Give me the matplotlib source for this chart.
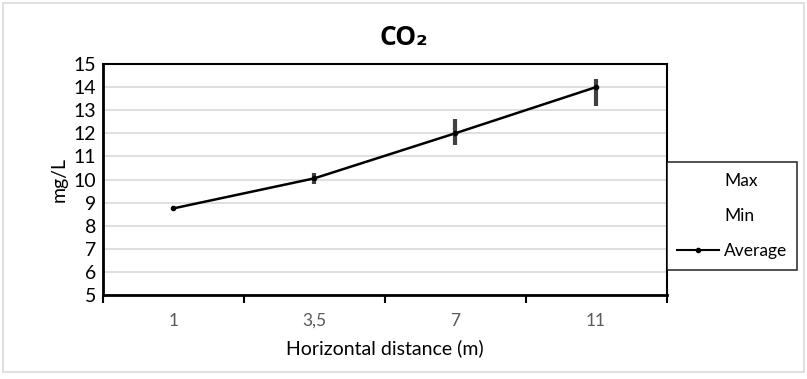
import matplotlib.pyplot as plt
import numpy as np
from matplotlib.lines import Line2D
from matplotlib.patches import Rectangle

plt.rcParams['font.family'] = ['Lato', 'DejaVu Sans']

distances = ["1", "3,5", "7", "11"]
average = [8.75, 10.05, 12.0, 14.0]
max_vals = [8.75, 10.3, 12.6, 14.35]
min_vals = [8.75, 9.8, 11.5, 13.2]

fig = plt.figure(figsize=(8.07, 3.79), dpi=100)
ax = fig.add_axes([0.1276, 0.2216, 0.6983, 0.6095])

x = np.arange(len(distances))

# max/min as vertical bars, like the Excel high-low lines
ax.vlines(x, min_vals, max_vals, color="#404040", linewidth=3, zorder=3)
ax.plot(x, average, color="black", linewidth=1.8, marker="o", markersize=3, zorder=4)

ax.set_xlim(-0.5, len(distances) - 0.5)
ax.set_ylim(5, 15)
ax.set_yticks(range(5, 16))
ax.grid(axis="y", color="#d9d9d9", linewidth=1.2)
ax.set_axisbelow(True)

ax.set_xticks(x)
ax.set_xticklabels(distances, color="#595959", fontsize=12.5)
ax.set_xticks(np.arange(-0.5, len(distances)), minor=True)
ax.tick_params(axis="x", which="major", length=0, pad=13)
ax.tick_params(axis="x", which="minor", length=6, width=1.5, direction="out")
ax.tick_params(axis="y", length=0, labelsize=14, pad=5)

for side in ["left", "bottom"]:
    ax.spines[side].set_linewidth(2)
for side in ["top", "right"]:
    ax.spines[side].set_linewidth(1.5)

ax.set_xlabel("Horizontal distance (m)", fontsize=14, labelpad=7)
ax.set_ylabel("mg/L", fontsize=14, labelpad=4)
fig.text(0.5, 0.9, "CO₂", fontsize=19, fontweight="bold", ha="center", va="center",
         family=["Open Sans", "DejaVu Sans"])

handles = [
    Line2D([], [], linestyle="none"),
    Line2D([], [], linestyle="none"),
    Line2D([], [], color="black", linewidth=1.5, marker="o", markersize=3),
]
leg = fig.legend(handles, ["Max", "Min", "Average"], loc="center",
                 bbox_to_anchor=(0.8265, 0.2876, 0.161, 0.285), mode="expand",
                 fontsize=12.5, frameon=True, fancybox=False, edgecolor="black",
                 labelspacing=1.1, handlelength=2.4, handletextpad=0.3,
                 borderaxespad=0, borderpad=0.6)
leg.get_frame().set_linewidth(1.2)

fig.patches.append(Rectangle((0.004, 0.018), 0.992, 0.974, transform=fig.transFigure,
                             fill=False, edgecolor="#d9d9d9", linewidth=1.2))

fig.savefig("out.png", dpi=100)
